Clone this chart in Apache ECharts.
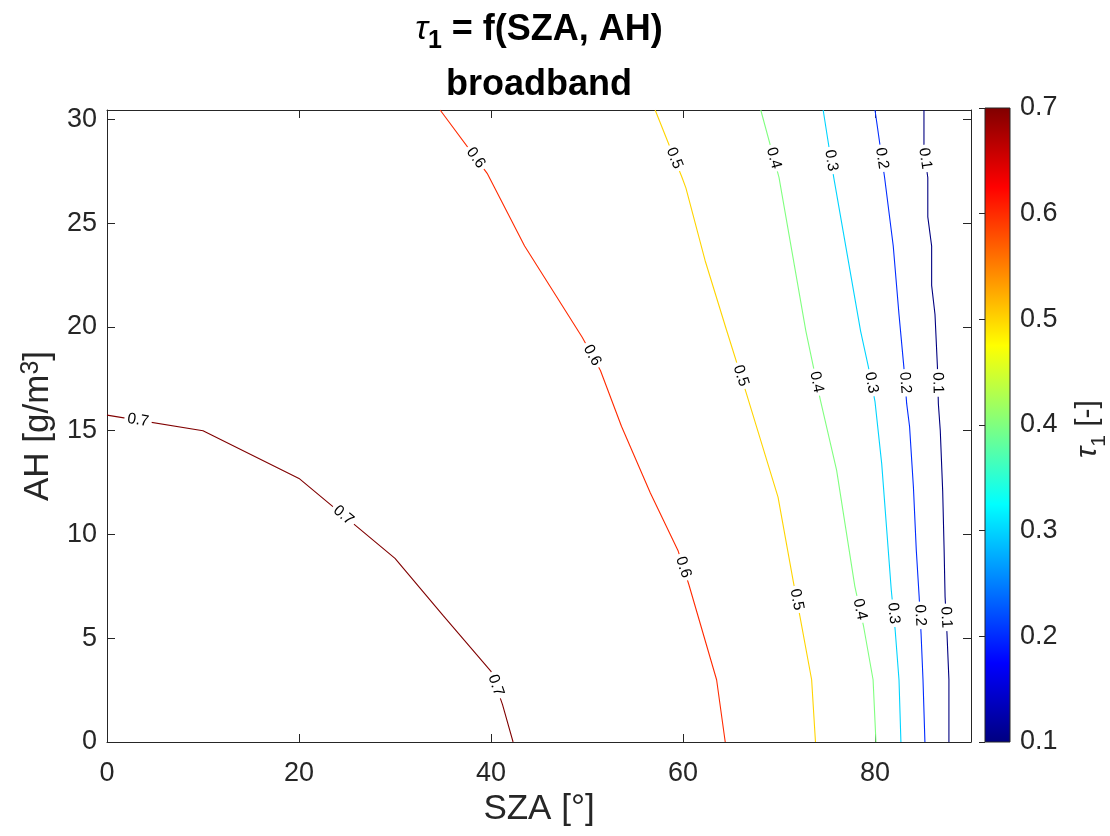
<!DOCTYPE html>
<html><head><meta charset="utf-8">
<script src="https://cdn.jsdelivr.net/npm/echarts@6/dist/echarts.min.js"></script>
<style>html,body{margin:0;padding:0;background:#fff}#c{width:1110px;height:836px}</style>
</head><body><div id="c"></div>
<script>
// ---- data ----
const contourLevels = [0.1, 0.2, 0.3, 0.4, 0.5, 0.6, 0.7];
// contour polylines: [SZA, AH]
const c01 = [[85.1,30.45],[85.1,28.5],[85.5,27.2],[85.5,25.3],[85.9,23.9],[85.9,22.0],[86.25,20.6],[86.5,18.1],[86.6,16.3],[86.8,15.0],[87.05,12.1],[87.2,9.25],[87.3,7.0],[87.5,5.2],[87.7,3.0],[87.7,0]];
const c02 = [[80.0,30.45],[81.0,27.2],[81.9,23.9],[82.5,20.6],[83.0,18.1],[83.3,16.3],[83.6,15.2],[84.0,12.3],[84.3,9.25],[84.6,7.0],[84.8,5.2],[85.0,3.0],[85.2,0]];
const c03 = [[74.6,30.45],[75.7,27.2],[78.5,19.8],[79.3,18.1],[80.0,16.4],[80.7,13.4],[81.7,7.3],[82.1,5.4],[82.5,3.0],[82.7,0]];
const c04 = [[68.1,30.45],[70.0,27.2],[72.8,19.8],[74.3,16.5],[76.0,13.1],[77.9,7.5],[78.8,5.6],[79.8,3.0],[80.1,0]];
const c05 = [[57.1,30.45],[59.9,27.2],[60.3,26.7],[62.3,23.2],[64.5,19.9],[66.6,16.8],[69.9,11.8],[71.5,7.7],[72.2,6.0],[73.4,3.0],[73.8,0]];
const c06 = [[34.7,30.45],[39.6,27.4],[43.5,23.9],[49.5,19.5],[51.4,17.9],[53.6,15.2],[56.6,12.0],[59.5,9.2],[60.6,7.6],[63.5,3.0],[64.4,0]];
const c07 = [[0,15.75],[10,15.0],[20,12.7],[30,8.85],[35,6.1],[40,3.4],[41.2,1.8],[42.3,0]];
// contour label anchor points: [SZA, AH]
const lab01 = [[85.1,28.1],[86.5,17.3],[87.1,6.0]];
const lab02 = [[80.4,28.1],[82.9,17.3],[84.5,6.1]];
const lab03 = [[75.2,28.0],[79.5,17.3],[81.9,6.2]];
const lab04 = [[69.2,28.1],[73.5,17.3],[78.1,6.36]];
const lab05 = [[58.96,28.1],[65.7,17.6],[71.7,6.85]];
const lab06 = [[38.3,28.1],[50.6,18.65],[59.9,8.4]];
const lab07 = [[3.2,15.4],[24.6,10.9],[40.6,2.75]];
const xTicks = [0, 20, 40, 60, 80];
const yTicks = [0, 5, 10, 15, 20, 25, 30];
const cbTicks = [0.1, 0.2, 0.3, 0.4, 0.5, 0.6, 0.7];

const contours = [c01, c02, c03, c04, c05, c06, c07];
const labels = [lab01, lab02, lab03, lab04, lab05, lab06, lab07];

// ---- styling ----
const FONT = '"Liberation Sans", Arial, Helvetica, sans-serif';
const TXT = '#262626';
const cMin = cbTicks[0], cMax = cbTicks[cbTicks.length - 1];
function jet(v) {
  const t = (v - cMin) / (cMax - cMin);
  const f = x => Math.round(255 * Math.max(0, Math.min(1, x)));
  return 'rgb(' + f(1.5 - Math.abs(4 * t - 3)) + ',' + f(1.5 - Math.abs(4 * t - 2)) + ',' + f(1.5 - Math.abs(4 * t - 1)) + ')';
}
const jetStops = [0, 0.125, 0.375, 0.625, 0.875, 1].map(t => ({ offset: t, color: jet(cMin + t * (cMax - cMin)) }));

const chart = echarts.init(document.getElementById('c'), null, { renderer: 'canvas' });

const lineSeries = contours.map((pts, i) => ({
  type: 'line', xAxisIndex: 0, yAxisIndex: 0, data: pts, showSymbol: false, symbol: 'none',
  lineStyle: { color: jet(contourLevels[i]), width: 1.1 }, clip: true, silent: true, z: 3
}));

const labelData = [];
labels.forEach((arr, i) => arr.forEach(p => labelData.push([i, p[0], p[1]])));

function nearestOnPolyline(pts, P) {
  let best = null;
  for (let i = 0; i < pts.length - 1; i++) {
    const A = pts[i], B = pts[i + 1];
    const vx = B[0] - A[0], vy = B[1] - A[1];
    const L2 = vx * vx + vy * vy || 1;
    let t = ((P[0] - A[0]) * vx + (P[1] - A[1]) * vy) / L2;
    t = Math.max(0, Math.min(1, t));
    const qx = A[0] + t * vx, qy = A[1] + t * vy;
    const d = (qx - P[0]) ** 2 + (qy - P[1]) ** 2;
    if (!best || d < best.d) best = { d, qx, qy, vx, vy };
  }
  return best;
}

const labelSeries = {
  type: 'custom', xAxisIndex: 0, yAxisIndex: 0, data: labelData, z: 5, silent: true,
  encode: { x: 1, y: 2 },
  renderItem: (params, api) => {
    const idx = api.value(0);
    const pts = contours[idx].map(p => api.coord(p));
    const P = api.coord([api.value(1), api.value(2)]);
    const b = nearestOnPolyline(pts, P);
    let dx = b.vx, dy = b.vy;
    if (dx < 0 || (dx === 0 && dy < 0)) { dx = -dx; dy = -dy; }
    const ang = Math.atan2(dy, dx);
    return {
      type: 'text', x: b.qx, y: b.qy, rotation: -ang,
      style: {
        text: contourLevels[idx].toFixed(1), fill: '#000', font: '15.5px ' + FONT,
        align: 'center', verticalAlign: 'middle', backgroundColor: '#fff', padding: [0, 3]
      }
    };
  }
};

const colorbarSeries = {
  type: 'custom', xAxisIndex: 2, yAxisIndex: 2, data: [[0, cMin]], z: 1, silent: true,
  renderItem: (params, api) => {
    const tl = api.coord([0, cMax]), br = api.coord([1, cMin]);
    return {
      type: 'rect', shape: { x: tl[0], y: tl[1], width: br[0] - tl[0], height: br[1] - tl[1] },
      style: { fill: new echarts.graphic.LinearGradient(0, 1, 0, 0, jetStops), stroke: TXT, lineWidth: 1 }
    };
  }
};

const axLine = { show: true, onZero: false, lineStyle: { color: TXT, width: 1 } };
const axTick = { show: true, inside: true, length: 8, lineStyle: { color: TXT, width: 1 } };
const tickLabel = { color: TXT, fontSize: 27, fontFamily: FONT };

const option = {
  animation: false,
  backgroundColor: '#fff',
  grid: [
    { left: 107, top: 110, width: 864, height: 632 },
    { left: 985, top: 108, width: 25, height: 634 }
  ],
  xAxis: [
    { gridIndex: 0, type: 'value', min: xTicks[0], max: 90, interval: xTicks[1] - xTicks[0], position: 'bottom',
      axisLine: axLine, axisTick: axTick, splitLine: { show: false },
      axisLabel: Object.assign({ margin: 18, showMaxLabel: false }, tickLabel),
      name: 'SZA [°]', nameLocation: 'middle', nameGap: 40,
      nameTextStyle: { color: TXT, fontSize: 35, fontFamily: FONT } },
    { gridIndex: 0, type: 'value', min: xTicks[0], max: 90, interval: xTicks[1] - xTicks[0], position: 'top',
      axisLine: axLine, axisTick: axTick, splitLine: { show: false }, axisLabel: { show: false } },
    { gridIndex: 1, type: 'value', min: 0, max: 1, show: false }
  ],
  yAxis: [
    { gridIndex: 0, type: 'value', min: yTicks[0], max: 30.45, interval: yTicks[1] - yTicks[0], position: 'left',
      axisLine: axLine, axisTick: axTick, splitLine: { show: false },
      axisLabel: Object.assign({ margin: 10, showMaxLabel: false }, tickLabel),
      name: '{a|AH [g/m}{s|3}{a|]}', nameLocation: 'middle', nameGap: 38, nameRotate: 90,
      nameTextStyle: { color: TXT, fontSize: 35, fontFamily: FONT,
        rich: { a: { fontSize: 35, fontFamily: FONT, color: TXT, lineHeight: 40 },
                s: { fontSize: 25, fontFamily: FONT, color: TXT, verticalAlign: 'top', lineHeight: 40 } } } },
    { gridIndex: 0, type: 'value', min: yTicks[0], max: 30.45, interval: yTicks[1] - yTicks[0], position: 'right',
      axisLine: axLine, axisTick: axTick, splitLine: { show: false }, axisLabel: { show: false } },
    { gridIndex: 1, type: 'value', min: cMin, max: cMax, interval: 0.1, position: 'right', z: 10,
      axisLine: { show: false }, axisTick: { show: true, inside: true, length: 6, lineStyle: { color: TXT } },
      splitLine: { show: false },
      axisLabel: Object.assign({ margin: 10, formatter: v => v.toFixed(1) }, tickLabel) }
  ],
  graphic: [
    { type: 'text', x: 539, y: 30, z: 10,
      style: { text: '{t|τ}{u|1}{b| = f(SZA, AH)}', align: 'center', verticalAlign: 'middle',
        rich: {
          t: { font: 'italic 34px ' + FONT, fill: '#000', lineHeight: 40 },
          u: { font: 'bold 25px ' + FONT, fill: '#000', verticalAlign: 'bottom', lineHeight: 48 },
          b: { font: 'bold 36px ' + FONT, fill: '#000', lineHeight: 40 }
        } } },
    { type: 'text', x: 539, y: 85, z: 10,
      style: { text: 'broadband', align: 'center', verticalAlign: 'middle', font: 'bold 36px ' + FONT, fill: '#000' } },
    { type: 'text', x: 1088, y: 429, rotation: Math.PI / 2, z: 10,
      style: { text: '{t|τ}{u|1}{b| [-]}', align: 'center', verticalAlign: 'middle',
        rich: {
          t: { font: 'italic 30px ' + FONT, fill: TXT, lineHeight: 36 },
          u: { font: '21px ' + FONT, fill: TXT, verticalAlign: 'bottom', lineHeight: 44 },
          b: { font: '30px ' + FONT, fill: TXT, lineHeight: 36 }
        } } }
  ],
  series: lineSeries.concat([labelSeries, colorbarSeries])
};
chart.setOption(option);
</script>
</body></html>
